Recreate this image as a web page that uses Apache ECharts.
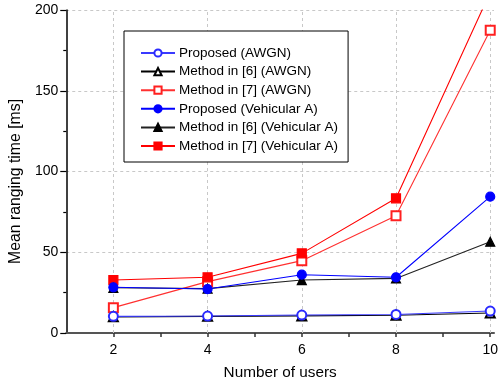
<!DOCTYPE html>
<html>
<head>
<meta charset="utf-8">
<script src="https://cdn.jsdelivr.net/npm/echarts@6/dist/echarts.min.js"></script>
<style>
  html, body { margin: 0; padding: 0; background: #fff; }
  #chart { width: 501px; height: 387px; }
</style>
</head>
<body>
<div id="chart"></div>
<script>
// Number of users on the x axis
const users = [2, 4, 6, 8, 10];

// Mean ranging time [ms] per method and channel
const proposedAwgn = [10.3, 10.5, 11.1, 11.5, 13.6];
const method6Awgn = [10.0, 10.3, 10.6, 11.0, 12.4];
const method7Awgn = [15.7, 31.8, 44.8, 72.6, 187.4];
const proposedVeh = [28.3, 27.2, 36.1, 34.5, 84.4];
const method6Veh = [28.0, 27.5, 32.8, 33.8, 56.5];
const method7Veh = [32.8, 34.5, 49.3, 83.4, 211.0];

const pairs = arr => users.map((u, i) => [u, arr[i]]);
const gridColor = '#c8c8c8';

function series(name, data, symbol, color, lineColor) {
  return {
    name: name,
    type: 'line',
    data: pairs(data),
    symbol: symbol,
    symbolSize: 9,
    clip: true,
    z: 3,
    itemStyle: { color: color, borderColor: color, borderWidth: 1.2 },
    lineStyle: { color: lineColor, width: 1.1 },
    emphasis: { disabled: true }
  };
}

const chart = echarts.init(document.getElementById('chart'), null, { renderer: 'canvas' });
const font = 'Arial, "Liberation Sans", sans-serif';

const seriesList = [
  series('Method in [7] (AWGN)', method7Awgn, 'emptyRect', '#ff2020', '#ff3030'),
  series('Method in [7] (Vehicular A)', method7Veh, 'rect', '#ff0000', '#ff0000'),
  series('Method in [6] (Vehicular A)', method6Veh, 'triangle', '#000000', '#222222'),
  series('Proposed (Vehicular A)', proposedVeh, 'circle', '#0000ff', '#0000ff'),
  series('Method in [6] (AWGN)', method6Awgn, 'emptyTriangle', '#000000', '#000000'),
  series('Proposed (AWGN)', proposedAwgn, 'emptyCircle', '#2a2aff', '#3a3aff')
];

// vertical grid lines only at the labelled user counts
seriesList[0].markLine = {
  silent: true,
  symbol: 'none',
  z: 1,
  label: { show: false },
  lineStyle: { color: gridColor, type: [3, 3], width: 1 },
  data: users.map(u => ({ xAxis: u }))
};

chart.setOption({
  animation: false,
  backgroundColor: '#ffffff',
  grid: { left: 65, top: 10, right: 4, bottom: 54, containLabel: false },
  legend: {
    orient: 'vertical',
    left: 124,
    top: 31,
    width: 225,
    padding: [15, 10, 9, 16],
    itemGap: 4.6,
    itemWidth: 34,
    itemHeight: 9,
    borderColor: '#000',
    borderWidth: 1,
    backgroundColor: '#fff',
    textStyle: { fontFamily: font, fontSize: 13.5, color: '#000', padding: [0, 0, 0, -1] },
    data: [
      'Proposed (AWGN)', 'Method in [6] (AWGN)', 'Method in [7] (AWGN)',
      'Proposed (Vehicular A)', 'Method in [6] (Vehicular A)', 'Method in [7] (Vehicular A)'
    ]
  },
  xAxis: {
    type: 'value',
    min: 1,
    max: 10.08,
    interval: 1,
    axisLine: { show: true, onZero: false, lineStyle: { color: '#555', width: 2 } },
    axisTick: { show: true, inside: false, length: 4, lineStyle: { color: '#333', width: 1.5 },
      customValues: [2, 3, 4, 5, 6, 7, 8, 9, 10] },
    axisLabel: {
      fontFamily: font, fontSize: 14, color: '#000', margin: 10,
      customValues: users,
      formatter: v => String(v)
    },
    splitLine: { show: false },
    name: 'Number of users',
    nameLocation: 'middle',
    nameGap: 32,
    nameTextStyle: { fontFamily: font, fontSize: 15.3, color: '#000' }
  },
  yAxis: {
    type: 'value',
    min: 0,
    max: 200,
    interval: 50,
    axisLine: { show: true, onZero: false, lineStyle: { color: '#000', width: 1.5 } },
    axisTick: { show: true, inside: false, length: 6, lineStyle: { color: '#000', width: 1.2 } },
    minorTick: { show: true, splitNumber: 2, length: 3, lineStyle: { color: '#000', width: 1.2 } },
    minorSplitLine: { show: false },
    axisLabel: { fontFamily: font, fontSize: 14, color: '#000', margin: 8 },
    splitLine: { show: true, lineStyle: { color: gridColor, type: [3, 3], width: 1 } },
    name: 'Mean ranging time [ms]',
    nameLocation: 'middle',
    nameGap: 34,
    nameTextStyle: { fontFamily: font, fontSize: 15.8, color: '#000', padding: [0, 20, 0, 0] }
  },
  series: seriesList
});
</script>
</body>
</html>
